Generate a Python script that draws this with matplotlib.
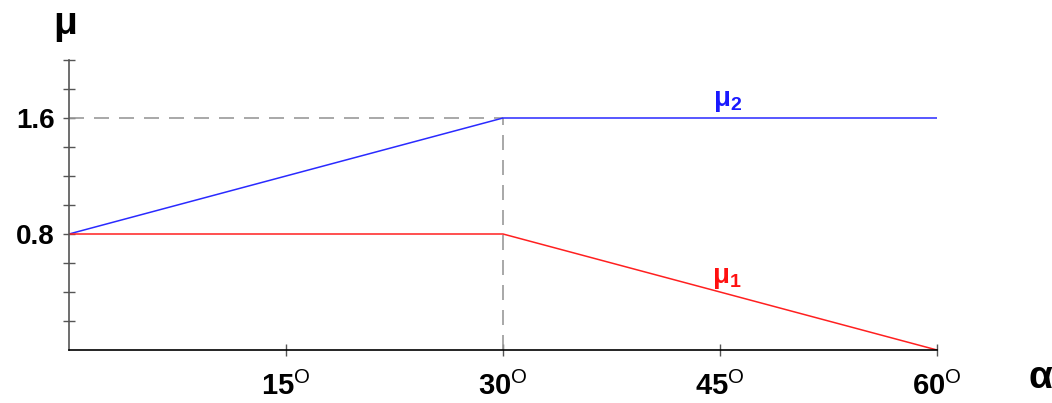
import matplotlib
matplotlib.use("Agg")
import matplotlib.pyplot as plt

# data
alpha = [0, 30, 60]
mu1 = [0.8, 0.8, 0.0]
mu2 = [0.8, 1.6, 1.6]
x_ticks = [15, 30, 45, 60]
y_ticks = [0.2, 0.4, 0.6, 0.8, 1.0, 1.2, 1.4, 1.6, 1.8, 2.0]
y_labels = {0.8: "0.8", 1.6: "1.6"}
x_break = 30
y_break = 1.6

plt.rcParams['font.family'] = ['Liberation Sans', 'DejaVu Sans']
plt.rcParams['mathtext.fontset'] = 'custom'
plt.rcParams['mathtext.rm'] = 'Liberation Sans'
plt.rcParams['mathtext.bf'] = 'Liberation Sans:bold'

fig = plt.figure(figsize=(10.52, 4.03), dpi=100)
ax = fig.add_axes([69 / 1052, 53 / 403, 868 / 1052, 290 / 403])

# guide lines
ax.plot([0, x_break], [y_break, y_break], color='#999999', lw=1.2, dashes=(9, 6))
ax.plot([x_break, x_break], [0, y_break], color='#999999', lw=1.2, dashes=(9, 6))

ax.plot(alpha, mu2, color='#2a2aff', lw=1.1)
ax.plot(alpha, mu1, color='#ff2020', lw=1.1)

ax.text(45.5, 1.63, r"$\mathbf{\mu_2}$", color='#1a1aff', fontsize=20, ha='center', va='bottom')
ax.text(45.5, 0.41, r"$\mathbf{\mu_1}$", color='#ff1010', fontsize=20, ha='center', va='bottom')

ax.set_xlim(0, 60)
ax.set_ylim(0, 2.0)
for s in ['top', 'right']:
    ax.spines[s].set_visible(False)
ax.spines['left'].set_color('#555555')
ax.spines['left'].set_linewidth(1.2)
ax.spines['bottom'].set_color('black')
ax.spines['bottom'].set_linewidth(1.2)

ax.set_xticks(x_ticks)
ax.set_xticklabels([r"$\mathbf{%d}^{\mathrm{O}}$" % t for t in x_ticks], fontsize=21)
ax.set_yticks(y_ticks)
ax.set_yticklabels([y_labels.get(v, "") for v in y_ticks], fontsize=20, fontweight='bold')
ax.tick_params(axis='both', direction='inout', length=8, width=1, color='#555555')
ax.tick_params(axis='x', pad=12)
ax.tick_params(axis='y', pad=6)

fig.text(65 / 1052, 1 - 24 / 403, "μ", fontsize=28, fontweight='bold', ha='center', va='center')
fig.text(1040 / 1052, 1 - 378 / 403, "α", fontsize=28, fontweight='bold', ha='center', va='center')

fig.savefig("out.png", dpi=100)
